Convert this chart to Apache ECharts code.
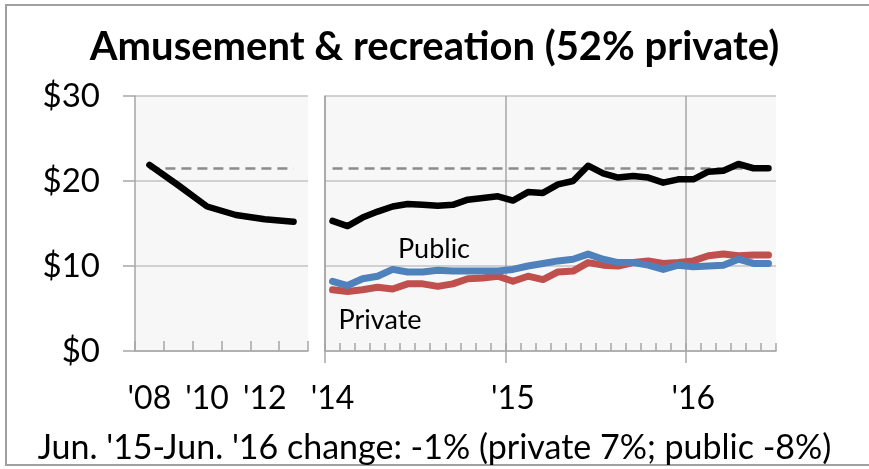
<!DOCTYPE html>
<html>
<head>
<meta charset="utf-8">
<script src="https://cdn.jsdelivr.net/npm/echarts@6/dist/echarts.min.js"></script>
<style>
  html, body { margin: 0; padding: 0; background: #fff; }
  #chart { width: 869px; height: 469px; }
</style>
</head>
<body>
<div id="chart"></div>
<script>
// annual part, 2008-2013
var yearCats = ["'08", "'09", "'10", "'11", "'12", "'13"];
var yearTotal = [21.9, 19.5, 17.0, 16.0, 15.5, 15.2];

// monthly part, Jan 2014 - Jun 2016
var monthCats = [
  "Jan '14", "Feb '14", "Mar '14", "Apr '14", "May '14", "Jun '14", "Jul '14", "Aug '14", "Sep '14", "Oct '14", "Nov '14", "Dec '14",
  "Jan '15", "Feb '15", "Mar '15", "Apr '15", "May '15", "Jun '15", "Jul '15", "Aug '15", "Sep '15", "Oct '15", "Nov '15", "Dec '15",
  "Jan '16", "Feb '16", "Mar '16", "Apr '16", "May '16", "Jun '16"
];
var monthTotal = [15.3, 14.7, 15.7, 16.4, 17.0, 17.3, 17.2, 17.1, 17.2, 17.8, 18.0, 18.2,
                  17.7, 18.7, 18.6, 19.6, 20.0, 21.8, 20.9, 20.4, 20.6, 20.4, 19.8, 20.2,
                  20.2, 21.1, 21.2, 22.0, 21.5, 21.5];
var monthPublic = [8.2, 7.7, 8.5, 8.8, 9.6, 9.3, 9.3, 9.5, 9.4, 9.4, 9.4, 9.4,
                   9.6, 10.0, 10.3, 10.6, 10.8, 11.4, 10.8, 10.4, 10.4, 10.1, 9.6, 10.1,
                   9.9, 10.0, 10.1, 10.8, 10.3, 10.3];
var monthPrivate = [7.2, 7.0, 7.2, 7.5, 7.3, 7.9, 7.9, 7.6, 7.9, 8.5, 8.6, 8.8,
                    8.2, 8.8, 8.4, 9.3, 9.4, 10.4, 10.1, 10.0, 10.4, 10.6, 10.3, 10.4,
                    10.6, 11.2, 11.4, 11.2, 11.3, 11.3];

var yTicks = [0, 10, 20, 30];
var yearStartIdx = [0, 12, 24];   // Jan of each year in monthCats
var refValue = monthTotal[monthTotal.length - 1];

var FONT = 'Lato';
var gridCol = '#c3c3c3';
var axisCol = '#a6a6a6';
var isYearStart = function (idx) { return yearStartIdx.indexOf(idx) >= 0; };
var everyOther = function (idx) { return idx % 2 === 0; };

var chart = echarts.init(document.getElementById('chart'));

var refLine = function (cats) {
  return {
    symbol: 'none',
    silent: true,
    z: 1,
    label: { show: false },
    lineStyle: { type: [10, 6], color: '#8c8c8c', width: 2.5 },
    data: [[{ coord: [cats[0], refValue] }, { coord: [cats[cats.length - 1], refValue] }]]
  };
};

var yAxisBase = function (gi, showLabels) {
  return {
    type: 'value',
    gridIndex: gi,
    min: yTicks[0],
    max: yTicks[yTicks.length - 1],
    interval: 10,
    axisLine: { show: true, lineStyle: { color: axisCol, width: 1.5 } },
    axisTick: { show: showLabels, length: 12, lineStyle: { color: axisCol, width: 1.5 } },
    axisLabel: {
      show: showLabels, margin: 35, color: '#000', fontFamily: FONT, fontSize: 33,
      formatter: function (v) { return '$' + v; }
    },
    splitLine: { show: true, lineStyle: { color: gridCol, width: 1.5 } }
  };
};

var option = {
  animation: false,
  backgroundColor: '#fff',
  title: [{
    text: 'Amusement & recreation (52% private)',
    left: 'center',
    top: 22,
    textStyle: { fontFamily: FONT, fontWeight: 'bold', fontSize: 40, color: '#000' }
  }, {
    text: "Jun. '15-Jun. '16 change: -1% (private 7%; public -8%)",
    left: 'center',
    top: 426,
    textStyle: { fontFamily: FONT, fontWeight: 'normal', fontSize: 34, color: '#000' }
  }],
  graphic: [
    { type: 'rect', shape: { x: 6, y: 5, width: 900, height: 460 }, style: { fill: 'none', stroke: '#a0a0a0', lineWidth: 2 }, z: -1 },
    { type: 'text', x: 434, y: 249, style: { text: 'Public', fontFamily: FONT, fontSize: 27, fill: '#000', textAlign: 'center', textVerticalAlign: 'middle' } },
    { type: 'text', x: 380, y: 320, style: { text: 'Private', fontFamily: FONT, fontSize: 27, fill: '#000', textAlign: 'center', textVerticalAlign: 'middle' } }
  ],
  grid: [
    { left: 135, top: 96, width: 173, height: 255, show: true, backgroundColor: '#f7f7f7', borderWidth: 0 },
    { left: 325, top: 96, width: 451, height: 255, show: true, backgroundColor: '#f7f7f7', borderWidth: 0 }
  ],
  xAxis: [{
    type: 'category',
    gridIndex: 0,
    position: 'bottom',
    data: yearCats,
    axisLine: { lineStyle: { color: axisCol, width: 1.5 } },
    axisTick: { show: true, inside: true, interval: 0, length: 10, lineStyle: { color: axisCol, width: 1.5 } },
    axisLabel: { interval: everyOther, margin: 32, color: '#000', fontFamily: FONT, fontSize: 32 },
    splitLine: { show: false }
  }, {
    // month ticks and year gridlines
    type: 'category',
    gridIndex: 1,
    position: 'bottom',
    offset: 0,
    data: monthCats,
    axisLine: { lineStyle: { color: axisCol, width: 1.5 } },
    axisTick: { show: true, inside: true, interval: 0, length: 8, lineStyle: { color: axisCol, width: 1.5 } },
    axisLabel: { show: false },
    splitLine: { show: true, interval: isYearStart, showMaxLine: false, lineStyle: { color: axisCol, width: 1.5 } }
  }, {
    // year ticks and labels, in month units from Jan '14
    type: 'value',
    gridIndex: 1,
    position: 'bottom',
    offset: 0,
    min: 0,
    max: monthCats.length,
    axisLine: { show: false },
    axisTick: { show: true, customValues: yearStartIdx, length: 12, lineStyle: { color: axisCol, width: 1.5 } },
    axisLabel: {
      customValues: yearStartIdx.map(function (i) { return i + 0.5; }),
      margin: 32, color: '#000', fontFamily: FONT, fontSize: 32,
      formatter: function (v) { return monthCats[Math.floor(v)].slice(4); }
    },
    splitLine: { show: false }
  }],
  yAxis: [yAxisBase(0, true), yAxisBase(1, false)],
  series: [{
    type: 'line', xAxisIndex: 0, yAxisIndex: 0, data: yearTotal,
    showSymbol: false, lineStyle: { color: '#000', width: 6.5, cap: 'round', join: 'round' },
    markLine: refLine(yearCats)
  }, {
    type: 'line', xAxisIndex: 1, yAxisIndex: 1, data: monthPrivate,
    showSymbol: false, lineStyle: { color: '#c0504d', width: 7, cap: 'round', join: 'round' }
  }, {
    type: 'line', xAxisIndex: 1, yAxisIndex: 1, data: monthPublic,
    showSymbol: false, lineStyle: { color: '#4f81bd', width: 7, cap: 'round', join: 'round' }
  }, {
    type: 'line', xAxisIndex: 1, yAxisIndex: 1, data: monthTotal,
    showSymbol: false, lineStyle: { color: '#000', width: 6.5, cap: 'round', join: 'round' },
    markLine: refLine(monthCats)
  }]
};

chart.setOption(option);
</script>
</body>
</html>
